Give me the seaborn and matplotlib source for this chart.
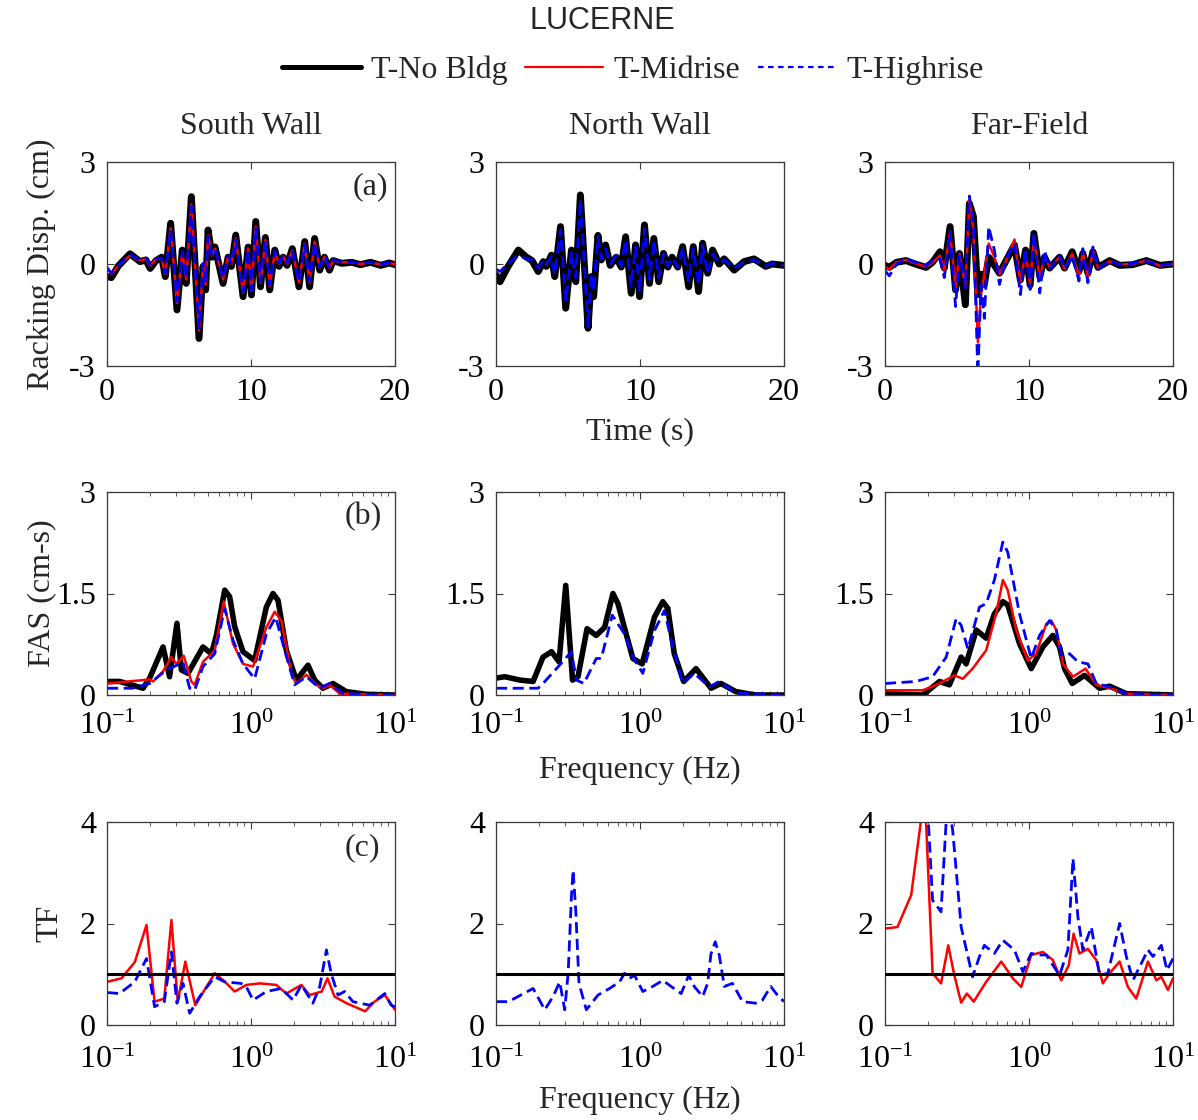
import numpy as np
import pandas as pd
import matplotlib
matplotlib.use("Agg")
import matplotlib.pyplot as plt
from matplotlib.lines import Line2D
from matplotlib.ticker import LogLocator, NullFormatter
import seaborn as sns

# ---------------- Racking displacement time histories (cm) ----------------
t_south = [0, 0.3, 0.8, 1.6, 2.3, 2.7, 3.0, 3.4, 3.8, 4.05, 4.42, 4.86, 5.23, 5.5, 5.86,
           6.39, 6.67, 6.85, 7.02, 7.3, 7.5, 8.06, 8.41, 8.64, 8.94, 9.45, 9.8, 10.03,
           10.33, 10.66, 11.0, 11.3, 11.65, 11.95, 12.23, 12.5, 12.87, 13.33, 13.73,
           14.07, 14.42, 14.77, 15.1, 15.45, 15.7, 16.3, 17.0, 17.6, 18.3, 19.0, 19.6, 20.0]
disp_south_nobldg = [-0.37, -0.4, -0.05, 0.3, 0.07, 0.12, -0.13, 0.1, 0.2, -0.37, 1.2, -1.35,
                     0.41, -0.57, 1.98, -2.19, -0.07, -0.76, 1.0, 0.2, 0.5, -0.57, 0.2, -0.07,
                     0.85, -0.96, 0.5, -0.91, 1.25, -0.67, 0.78, -0.76, 0.41, -0.07, 0.2, -0.04,
                     0.45, -0.67, 0.66, -0.67, 0.75, -0.18, 0.2, -0.18, 0.1, 0.02, 0.05, -0.02,
                     0.05, -0.04, 0.03, -0.02]
disp_south_mid = [-0.1, -0.3, -0.05, 0.25, 0.1, 0.15, -0.05, 0.15, 0.15, -0.3, 1.05, -1.15,
                  0.35, -0.45, 1.75, -1.95, 0.0, -0.6, 0.85, 0.25, 0.45, -0.45, 0.22, 0.0,
                  0.75, -0.85, 0.45, -0.8, 1.1, -0.55, 0.7, -0.65, 0.35, 0.0, 0.22, 0.0,
                  0.4, -0.55, 0.6, -0.55, 0.65, -0.1, 0.2, -0.12, 0.1, 0.05, 0.05, 0.0,
                  0.05, -0.02, 0.03, 0.0]
disp_south_high = [-0.1, -0.28, -0.03, 0.27, 0.12, 0.17, -0.03, 0.15, 0.17, -0.28, 1.0, -1.1,
                   0.36, -0.42, 1.7, -1.9, 0.02, -0.55, 0.82, 0.27, 0.42, -0.42, 0.24, 0.02,
                   0.72, -0.82, 0.42, -0.78, 1.05, -0.52, 0.68, -0.62, 0.38, 0.02, 0.24, 0.02,
                   0.38, -0.52, 0.58, -0.52, 0.62, -0.08, 0.22, -0.1, 0.12, 0.06, 0.06, 0.01,
                   0.06, -0.01, 0.04, 0.01]

t_north = [0, 0.28, 0.8, 1.55, 2.12, 2.5, 2.93, 3.28, 3.5, 3.85, 4.08, 4.48, 4.84, 5.24, 5.54,
           5.86, 6.39, 6.62, 6.78, 7.08, 7.31, 7.61, 7.93, 8.35, 8.7, 9.0, 9.39, 9.69, 9.97,
           10.31, 10.66, 10.96, 11.3, 11.63, 11.93, 12.23, 12.62, 12.96, 13.38, 13.7, 14.07,
           14.35, 14.7, 15.04, 15.5, 15.85, 16.54, 17.23, 17.92, 18.73, 19.19, 20.0]
disp_north_nobldg = [-0.32, -0.52, -0.1, 0.41, 0.2, 0.1, -0.22, 0.07, -0.07, 0.26, -0.37, 1.1,
                     -1.3, 0.41, -0.52, 2.03, -1.89, -0.37, -0.96, 0.84, 0.12, 0.56, -0.04, 0.2,
                     -0.09, 0.8, -0.86, 0.56, -0.96, 1.15, -0.57, 0.75, -0.52, 0.31, -0.09, 0.2,
                     -0.09, 0.51, -0.67, 0.51, -0.81, 0.61, -0.27, 0.41, 0.0, 0.15, -0.18, 0.07,
                     0.15, -0.07, 0.0, -0.04]
disp_north_high = [-0.15, -0.22, 0.0, 0.25, 0.15, 0.12, -0.12, 0.1, -0.02, 0.22, -0.3, 1.0,
                   -1.1, 0.35, -0.4, 1.9, -1.85, -0.3, -0.8, 0.8, 0.15, 0.45, 0.0, 0.25,
                   -0.05, 0.7, -0.65, 0.5, -0.8, 1.05, -0.45, 0.7, -0.4, 0.28, -0.05, 0.18,
                   -0.1, 0.45, -0.5, 0.45, -0.6, 0.55, -0.3, 0.3, 0.02, 0.12, -0.12, 0.05,
                   0.12, -0.05, 0.02, -0.04]

t_far = [0, 0.3, 0.8, 1.46, 2.1, 2.85, 3.3, 3.82, 4.12, 4.52, 4.9, 5.17, 5.58, 5.86, 6.14,
         6.45, 6.67, 6.9, 7.2, 7.6, 7.95, 8.41, 8.99, 9.4, 9.76, 10.08, 10.34, 10.75, 11.08,
         11.43, 12.12, 12.47, 13.0, 13.47, 13.74, 14.09, 14.44, 14.79, 15.6, 16.3, 17.2,
         18.15, 19.1, 20.0]
disp_far_nobldg = [-0.04, -0.1, 0.05, 0.1, 0.0, -0.1, 0.05, 0.36, -0.12, 1.1, -0.76, 0.31,
                   -1.2, 1.78, 1.39, -0.9, -0.3, -0.6, 0.2, -0.04, -0.27, 0.1, 0.56, -0.47,
                   0.41, -0.62, 0.9, -0.37, 0.2, -0.12, 0.2, -0.12, 0.36, -0.22, 0.31, -0.27,
                   0.36, -0.1, 0.1, -0.04, -0.02, 0.1, -0.04, 0.0]
disp_far_mid = [-0.1, -0.15, 0.05, 0.12, 0.02, -0.08, 0.05, 0.25, -0.2, 0.95, -0.7, 0.3,
                -0.65, 1.9, 1.0, -2.3, -0.9, -0.3, 0.6, 0.2, -0.3, 0.1, 0.72, -0.55,
                0.35, -0.6, 0.8, -0.45, 0.25, -0.1, 0.2, -0.15, 0.3, -0.35, 0.35, -0.4,
                0.4, -0.12, 0.08, -0.02, 0.0, 0.1, -0.05, 0.0]
disp_far_high = [-0.2, -0.35, 0.0, 0.15, 0.05, -0.05, 0.1, 0.15, -0.4, 0.95, -1.25, 0.25,
                 -0.7, 2.0, 1.2, -3.25, -0.6, -1.6, 1.1, 0.4, -0.6, 0.15, 0.62, -0.9,
                 0.45, -0.75, 0.9, -0.85, 0.4, -0.15, 0.25, -0.15, 0.25, -0.5, 0.45, -0.55,
                 0.5, -0.15, 0.1, -0.03, 0.02, 0.08, -0.05, 0.02]

# ---------------- Fourier amplitude spectra (cm-s) ----------------
f_fas_south_nobldg = [0.1, 0.1225, 0.178, 0.198, 0.245, 0.272, 0.306, 0.3285, 0.365, 0.464,
                      0.531, 0.575, 0.657, 0.711, 0.77, 0.88, 1.06, 1.278, 1.422, 1.54, 1.76,
                      2.064, 2.488, 2.768, 3.16, 3.709, 4.588, 6.32, 10]
fas_south_nobldg = [0.2, 0.2, 0.1, 0.25, 0.71, 0.27, 1.06, 0.37, 0.32, 0.71, 0.61, 0.88, 1.55,
                    1.45, 1.01, 0.64, 0.51, 1.3, 1.5, 1.4, 0.66, 0.22, 0.44, 0.22, 0.1, 0.17,
                    0.05, 0.01, 0.0]
f_fas_south_mid = [0.1, 0.198, 0.2087, 0.245, 0.28, 0.303, 0.341, 0.385, 0.406, 0.464, 0.56,
                   0.646, 0.75, 0.88, 1.033, 1.278, 1.46, 1.625, 1.906, 2.064, 2.423, 2.843,
                   3.16, 3.517, 4.125, 10]
fas_south_mid = [0.17, 0.23, 0.2, 0.35, 0.56, 0.46, 0.58, 0.2, 0.15, 0.49, 0.66, 1.38, 0.76,
                 0.46, 0.42, 1.0, 1.23, 1.1, 0.32, 0.17, 0.3, 0.15, 0.1, 0.15, 0.02, 0.0]
f_fas_south_high = [0.1, 0.15, 0.198, 0.2584, 0.337, 0.375, 0.406, 0.464, 0.56, 0.657, 0.75,
                    0.88, 1.06, 1.278, 1.484, 1.713, 2.01, 2.423, 2.998, 3.517, 4.35, 10]
fas_south_high = [0.1, 0.1, 0.17, 0.37, 0.48, 0.1, 0.07, 0.42, 0.61, 1.28, 0.81, 0.46, 0.24,
                  0.9, 1.15, 0.66, 0.15, 0.27, 0.1, 0.17, 0.02, 0.0]

f_fas_north_nobldg = [0.1, 0.115, 0.147, 0.181, 0.212, 0.243, 0.274, 0.305, 0.34, 0.371, 0.429,
                      0.497, 0.568, 0.649, 0.703, 0.802, 0.892, 1.035, 1.26, 1.44, 1.56, 1.73,
                      2.01, 2.45, 3.11, 3.65, 4.63, 6.37, 10]
fas_north_nobldg = [0.25, 0.27, 0.22, 0.2, 0.56, 0.64, 0.49, 1.62, 0.22, 0.27, 0.98, 0.88, 1.0,
                    1.5, 1.35, 0.9, 0.54, 0.46, 1.15, 1.38, 1.28, 0.61, 0.2, 0.39, 0.1, 0.17,
                    0.05, 0.0, 0.0]
f_fas_north_high = [0.1, 0.196, 0.212, 0.263, 0.334, 0.362, 0.408, 0.497, 0.538, 0.642, 0.781,
                    0.892, 1.046, 1.26, 1.479, 1.687, 1.98, 2.38, 3.03, 3.55, 4.63, 10]
fas_north_high = [0.1, 0.1, 0.17, 0.39, 0.64, 0.22, 0.17, 0.54, 0.54, 1.18, 0.9, 0.56, 0.32,
                  0.95, 1.25, 0.71, 0.17, 0.32, 0.12, 0.2, 0.03, 0.0]

f_fas_far_nobldg = [0.1, 0.183, 0.239, 0.28, 0.338, 0.366, 0.43, 0.504, 0.575, 0.658, 0.712,
                    0.859, 1.036, 1.248, 1.465, 1.63, 1.766, 1.996, 2.43, 3.09, 3.63, 4.74, 10]
fas_far_nobldg = [0.02, 0.0, 0.2, 0.15, 0.56, 0.46, 0.96, 0.84, 1.2, 1.38, 1.33, 0.76, 0.39,
                  0.71, 0.88, 0.71, 0.39, 0.17, 0.29, 0.1, 0.13, 0.02, 0.0]
f_fas_far_mid = [0.1, 0.183, 0.239, 0.303, 0.347, 0.406, 0.504, 0.591, 0.658, 0.712, 0.815,
                 0.981, 1.122, 1.317, 1.427, 1.547, 1.72, 2.02, 2.47, 2.93, 3.63, 4.74, 10]
fas_far_mid = [0.07, 0.07, 0.17, 0.29, 0.24, 0.39, 0.66, 1.2, 1.7, 1.55, 0.96, 0.51, 0.61,
               1.05, 1.1, 0.96, 0.46, 0.27, 0.39, 0.15, 0.1, 0.02, 0.0]
f_fas_far_high = [0.1, 0.164, 0.214, 0.266, 0.312, 0.338, 0.376, 0.453, 0.504, 0.575, 0.658,
                  0.712, 0.859, 1.036, 1.183, 1.389, 1.547, 1.675, 1.913, 2.186, 2.564, 2.93,
                  3.63, 4.74, 10]
fas_far_high = [0.17, 0.2, 0.27, 0.56, 1.13, 1.03, 0.68, 1.3, 1.35, 1.7, 2.26, 2.11, 1.2, 0.54,
                0.88, 1.1, 0.96, 0.59, 0.61, 0.49, 0.46, 0.17, 0.12, 0.02, 0.0]

# ---------------- Transfer functions (building / no building) ----------------
f_tf_south_mid = [0.1, 0.126, 0.156, 0.188, 0.214, 0.25, 0.28, 0.31, 0.35, 0.41, 0.56, 0.66,
                  0.77, 0.93, 1.15, 1.5, 1.76, 2.24, 2.55, 3.1, 3.4, 3.8, 4.6, 6.2, 7.2, 8.5, 10]
tf_south_mid = [0.85, 0.92, 1.24, 1.97, 0.46, 0.52, 2.07, 0.46, 1.25, 0.39, 1.02, 0.85, 0.66,
                0.79, 0.82, 0.79, 0.62, 0.79, 0.59, 0.66, 0.92, 0.56, 0.43, 0.27, 0.46, 0.59, 0.3]
f_tf_south_high = [0.1, 0.122, 0.156, 0.188, 0.214, 0.25, 0.28, 0.306, 0.337, 0.375, 0.44,
                   0.56, 0.657, 0.85, 0.93, 1.033, 1.278, 1.625, 1.96, 2.24, 2.69, 3.0, 3.34,
                   3.6, 4.02, 4.47, 5.1, 6.67, 8.5, 9.4, 10]
tf_south_high = [0.64, 0.62, 0.85, 1.31, 0.36, 0.46, 1.44, 0.43, 0.82, 0.23, 0.56, 0.95, 0.85,
                 0.82, 0.75, 0.49, 0.66, 0.72, 0.49, 0.79, 0.43, 0.75, 1.48, 1.02, 0.59, 0.66,
                 0.46, 0.39, 0.62, 0.39, 0.36]

f_tf_north_high = [0.1, 0.122, 0.181, 0.218, 0.249, 0.277, 0.30, 0.317, 0.334, 0.343, 0.358,
                   0.377, 0.424, 0.511, 0.615, 0.721, 0.781, 0.846, 0.916, 1.046, 1.227, 1.44,
                   1.643, 1.93, 2.18, 2.38, 2.72, 2.95, 3.11, 3.33, 3.55, 3.85, 4.39, 5.15,
                   6.37, 7.08, 8.09, 8.99, 10]
tf_north_high = [0.46, 0.46, 0.72, 0.3, 0.56, 0.85, 0.3, 1.02, 2.53, 3.05, 2.26, 0.82, 0.3,
                 0.59, 0.72, 0.85, 1.02, 0.92, 0.98, 0.66, 0.76, 0.88, 0.76, 0.62, 0.98, 0.76,
                 0.56, 0.82, 1.4, 1.64, 1.38, 0.76, 0.82, 0.46, 0.43, 0.49, 0.76, 0.59, 0.46]

f_tf_far_mid = [0.1, 0.122, 0.152, 0.183, 0.193, 0.214, 0.245, 0.275, 0.303, 0.338, 0.37,
                0.413, 0.504, 0.642, 0.772, 0.883, 1.036, 1.248, 1.465, 1.675, 1.89, 2.04,
                2.24, 2.564, 2.93, 3.26, 3.63, 4.26, 4.86, 5.56, 6.7, 7.67, 8.3, 9.23, 10]
tf_far_mid = [1.9, 1.93, 2.56, 4.3, 3.97, 1.02, 0.82, 1.57, 0.98, 0.44, 0.62, 0.46, 0.85, 1.25,
              0.92, 0.75, 1.38, 1.44, 1.28, 0.88, 1.18, 1.8, 1.41, 1.5, 1.28, 0.82, 1.02, 1.25,
              0.75, 0.52, 1.25, 0.88, 0.95, 0.69, 0.92]
f_tf_far_high = [0.195, 0.214, 0.245, 0.272, 0.295, 0.338, 0.406, 0.453, 0.49, 0.575, 0.658,
                 0.792, 0.906, 1.036, 1.183, 1.317, 1.63, 1.862, 2.02, 2.186, 2.366, 2.71,
                 3.09, 3.53, 4.26, 4.74, 5.27, 6.7, 7.26, 8.3, 9.08, 10]
tf_far_high = [4.6, 2.46, 2.23, 4.5, 3.84, 1.93, 0.95, 1.35, 1.57, 1.41, 1.67, 1.48, 1.05,
               1.41, 1.38, 1.38, 0.98, 1.48, 3.28, 2.13, 1.48, 1.93, 0.98, 1.02, 2.0, 1.35,
               0.88, 1.48, 1.35, 1.57, 1.08, 1.31]

# ---------------- Labels ----------------
column_titles = ["South Wall", "North Wall", "Far-Field"]
case_labels = ["T-No Bldg", "T-Midrise", "T-Highrise"]
panel_tags = ["(a)", "(b)", "(c)"]
row_ylabels = ["Racking Disp. (cm)", "FAS (cm-s)", "TF"]
time_ticks = [0, 10, 20]
disp_ticks = [-3, 0, 3]
fas_ticks = [0, 1.5, 3]
tf_ticks = [0, 2, 4]

# ---------------- Style ----------------
sns.set_style("ticks")
plt.rcParams["font.family"] = ["Liberation Serif", "DejaVu Serif"]
plt.rcParams["mathtext.fontset"] = "custom"
plt.rcParams["mathtext.rm"] = "Liberation Serif"
plt.rcParams["mathtext.it"] = "Liberation Serif:italic"
plt.rcParams["axes.unicode_minus"] = False
FS = 23

STYLE = {
    "nobldg": dict(color="black", linewidth=4.5, linestyle="-"),
    "mid": dict(color="#ff0000", linewidth=1.8, linestyle="-"),
    "high": dict(color="#0000ff", linewidth=2.0, linestyle=(0, (4, 2))),
}

W, H = 1198, 1120
fig = plt.figure(figsize=(W / 100, H / 100), dpi=100)
col_left = [107, 496, 885]
row_span = [(162, 366), (492, 695), (822, 1025)]
xtick_pad = [9, 12, 15]
axes = [[fig.add_axes([l / W, 1 - b / H, 288 / W, (b - t) / H]) for l in col_left]
        for (t, b) in row_span]


def draw(ax, x, y, case, lw=None):
    kw = dict(STYLE[case])
    if lw is not None:
        kw["linewidth"] = lw
    df = pd.DataFrame({"x": x, "y": y})
    sns.lineplot(data=df, x="x", y="y", ax=ax, estimator=None, sort=False,
                 legend=False, **kw)


def frame(ax, xpad):
    for s in ax.spines.values():
        s.set_color("#3a3a3a")
        s.set_linewidth(0.9)
    ax.tick_params(which="both", direction="in", top=True, right=True,
                   labelsize=FS, colors="#3a3a3a", labelcolor="black")
    ax.tick_params(which="major", length=5, width=0.8)
    ax.tick_params(which="minor", length=3, width=0.6)
    ax.tick_params(axis="x", pad=xpad)
    ax.tick_params(axis="y", pad=8)
    ax.set_xlabel("")
    ax.set_ylabel("")


# Row 1: time histories
time_sets = [
    (t_south, [("nobldg", disp_south_nobldg), ("mid", disp_south_mid), ("high", disp_south_high)]),
    (t_north, [("nobldg", disp_north_nobldg), ("high", disp_north_high)]),
    (t_far, [("nobldg", disp_far_nobldg), ("mid", disp_far_mid), ("high", disp_far_high)]),
]
for ax, (tt, series) in zip(axes[0], time_sets):
    for case, vals in series:
        draw(ax, tt, vals, case, lw=5.0 if case == "nobldg" else None)
    frame(ax, xtick_pad[0])
    ax.set_xlim(0, 20)
    ax.set_ylim(-3, 3)
    ax.set_xticks(time_ticks)
    ax.set_xticklabels([str(v) for v in time_ticks])
    ax.set_yticks(disp_ticks)
    ax.set_yticklabels([str(v) for v in disp_ticks])

# Row 2: Fourier amplitude spectra
fas_sets = [
    [("nobldg", f_fas_south_nobldg, fas_south_nobldg), ("mid", f_fas_south_mid, fas_south_mid),
     ("high", f_fas_south_high, fas_south_high)],
    [("nobldg", f_fas_north_nobldg, fas_north_nobldg), ("high", f_fas_north_high, fas_north_high)],
    [("nobldg", f_fas_far_nobldg, fas_far_nobldg), ("mid", f_fas_far_mid, fas_far_mid),
     ("high", f_fas_far_high, fas_far_high)],
]
# Row 3: transfer functions
tf_sets = [
    [("mid", f_tf_south_mid, tf_south_mid), ("high", f_tf_south_high, tf_south_high)],
    [("high", f_tf_north_high, tf_north_high)],
    [("mid", f_tf_far_mid, tf_far_mid), ("high", f_tf_far_high, tf_far_high)],
]


def log_axis(ax):
    ax.set_xscale("log")
    ax.set_xlim(0.1, 10)
    ax.xaxis.set_major_locator(LogLocator(base=10, numticks=10))
    ax.xaxis.set_minor_locator(LogLocator(base=10, subs=np.arange(2, 10), numticks=20))
    ax.xaxis.set_minor_formatter(NullFormatter())


for ax, series in zip(axes[1], fas_sets):
    for case, ff, vals in series:
        draw(ax, ff, vals, case, lw=4.0 if case == "nobldg" else None)
    log_axis(ax)
    frame(ax, xtick_pad[1])
    ax.set_xlim(0.1, 10)
    ax.set_ylim(0, 3)
    ax.set_yticks(fas_ticks)
    ax.set_yticklabels(["0", "1.5", "3"])

for ax, series in zip(axes[2], tf_sets):
    for case, ff, vals in series:
        draw(ax, ff, vals, case)
    ax.axhline(1.0, color="black", linewidth=2.2, zorder=5)
    log_axis(ax)
    frame(ax, xtick_pad[2])
    ax.set_xlim(0.1, 10)
    ax.set_ylim(0, 4)
    ax.set_yticks(tf_ticks)
    ax.set_yticklabels([str(v) for v in tf_ticks])

# Axis labels
for r, lab in enumerate(row_ylabels):
    ax = axes[r][0]
    ax.set_ylabel(lab, fontsize=FS)
    xpos = -0.198 if lab == "TF" else -0.226
    ax.yaxis.set_label_coords(xpos, 0.5)
    ax.yaxis.label.set_va("center")

for r, lab, ypx in [(0, "Time (s)", 432), (1, "Frequency (Hz)", 770), (2, "Frequency (Hz)", 1100)]:
    ax = axes[r][1]
    t, b = row_span[r]
    ax.set_xlabel(lab, fontsize=FS)
    ax.xaxis.set_label_coords(0.5, (b - ypx) / (b - t))
    ax.xaxis.label.set_va("center")

# Panel tags
for r, (tag, xy) in enumerate(zip(panel_tags, [(0.913, 0.877), (0.889, 0.877), (0.885, 0.872)])):
    axes[r][0].text(xy[0], xy[1], tag, transform=axes[r][0].transAxes,
                    ha="center", va="center", fontsize=FS)

# Column titles
for c, title in enumerate(column_titles):
    fig.text((col_left[c] + 144) / W, 1 - 126 / H, title, ha="center", va="center",
             fontsize=FS)

# Figure title and legend
fig.text(602 / W, 1 - 21 / H, "LUCERNE", ha="center", va="center", fontsize=22,
         family=["Liberation Sans", "DejaVu Sans"])
handles = [
    Line2D([], [], color="black", linewidth=3.6),
    Line2D([], [], color="#ff0000", linewidth=1.6),
    Line2D([], [], color="#0000ff", linewidth=1.6, linestyle=(0, (2.5, 2))),
]
fig.legend(handles, case_labels, loc="center", bbox_to_anchor=(633 / W, 1 - 70 / H),
           ncol=3, frameon=False, fontsize=FS, handlelength=2.45, handletextpad=0.32,
           columnspacing=0.55, borderaxespad=0, borderpad=0)

fig.savefig("out.png", dpi=100)
